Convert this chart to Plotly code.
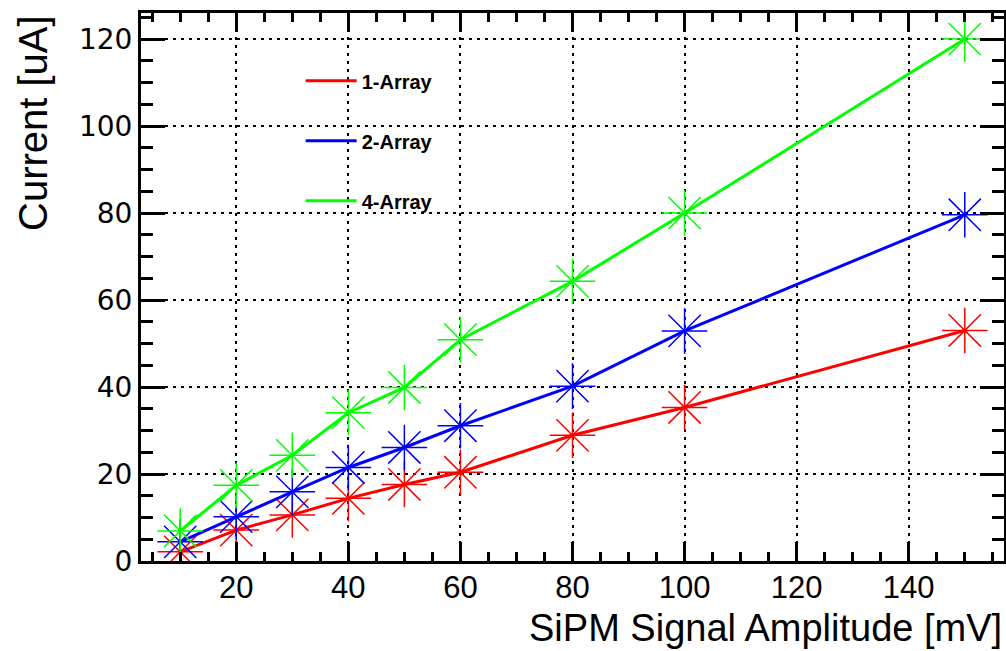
import plotly.graph_objects as go

amplitude_mv = [10, 20, 30, 40, 50, 60, 80, 100, 150]
current_1_array = [2.1, 7.1, 10.6, 14.4, 17.6, 20.4, 28.9, 35.3, 53.0]
current_2_array = [4.4, 10.2, 15.9, 21.5, 26.1, 31.1, 40.2, 52.9, 79.6]
current_4_array = [6.9, 17.4, 24.3, 34.1, 39.9, 50.9, 64.3, 80.0, 120.0]

series_names = ["1-Array", "2-Array", "4-Array"]
series_values = [current_1_array, current_2_array, current_4_array]
series_colors = ["#ff0000", "#0000ff", "#00ff00"]

x_tick_vals = [20, 40, 60, 80, 100, 120, 140]
y_tick_vals = [0, 20, 40, 60, 80, 100, 120]

fig = go.Figure()
for name, vals, col in zip(series_names, series_values, series_colors):
    fig.add_trace(go.Scatter(
        x=amplitude_mv, y=vals, mode="lines", name=name, legendgroup=name,
        line=dict(color=col, width=3), showlegend=True))
    fig.add_trace(go.Scatter(
        x=amplitude_mv, y=vals, mode="markers", name=name, legendgroup=name,
        marker=dict(symbol="asterisk-open", size=38, color=col,
                    line=dict(color=col, width=1.5)),
        showlegend=False))

fig.update_layout(
    width=1006, height=651,
    margin=dict(l=141, r=2, t=13, b=90, autoexpand=False),
    paper_bgcolor="white", plot_bgcolor="white",
    font=dict(family="Liberation Sans, Arial, sans-serif", color="black"),
    showlegend=True,
    legend=dict(x=0.185, y=0.912, xanchor="left", yanchor="top",
                bgcolor="rgba(0,0,0,0)", borderwidth=0,
                font=dict(size=20, family="Liberation Sans, Arial, sans-serif", weight="bold"),
                tracegroupgap=31, itemwidth=51),
)

fig.update_xaxes(
    range=[3, 157], tickvals=x_tick_vals, ticktext=[str(v) for v in x_tick_vals],
    ticks="inside", ticklen=19, tickwidth=2.5, tickcolor="black",
    minor=dict(dtick=5, tick0=0, ticks="inside", ticklen=9, tickwidth=2.5, tickcolor="black", showgrid=False),
    showline=True, linewidth=3, linecolor="black", mirror="allticks",
    showgrid=True, gridcolor="black", gridwidth=2, griddash="3px,5px",
    zeroline=False, tickfont=dict(size=31), automargin=False, ticklabelstandoff=-3,
)
fig.update_yaxes(
    range=[0, 126], tickvals=y_tick_vals, ticktext=[str(v) for v in y_tick_vals],
    ticks="inside", ticklen=24, tickwidth=2.5, tickcolor="black",
    minor=dict(dtick=5, tick0=0, ticks="inside", ticklen=12, tickwidth=2.5, tickcolor="black", showgrid=False),
    showline=True, linewidth=3, linecolor="black", mirror="allticks",
    showgrid=True, gridcolor="black", gridwidth=2, griddash="3px,5px",
    zeroline=False, tickfont=dict(size=28, family="DejaVu Sans, sans-serif"), automargin=False,
)

fig.add_annotation(text="SiPM Signal Amplitude [mV]", xref="paper", yref="paper",
                   x=1.0, y=0, xanchor="right", yanchor="bottom", yshift=-90,
                   showarrow=False, font=dict(size=38))
fig.add_annotation(text="Current [uA]", xref="paper", yref="paper",
                   x=0, y=1.0, xanchor="right", yanchor="top", xshift=-84,
                   textangle=-90, showarrow=False, font=dict(size=40))

fig.write_html("out.html", config={"displayModeBar": False},
               post_script="document.body.style.margin='0';")
